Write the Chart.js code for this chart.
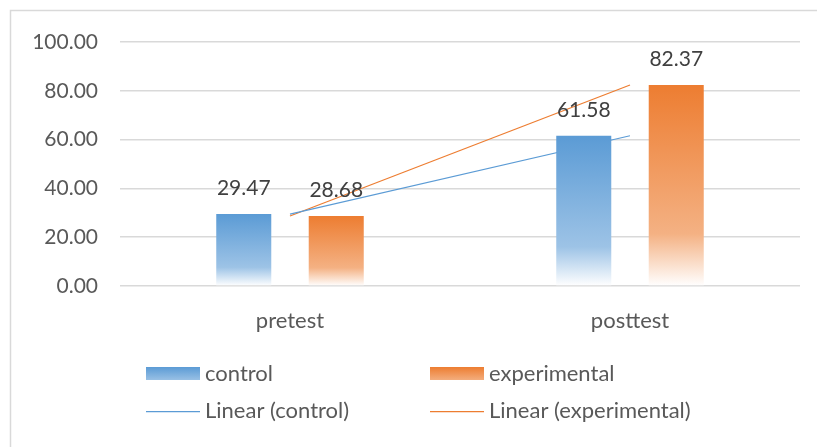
<!DOCTYPE html>
<html>
<head>
<meta charset="utf-8">
<script src="https://cdn.jsdelivr.net/npm/chart.js@4.4.1/dist/chart.umd.min.js"></script>
<style>
  html, body { margin: 0; padding: 0; background: #fff; }
  #wrap { width: 817px; height: 447px; }
</style>
</head>
<body>
<div id="wrap"><canvas id="c" width="817" height="447"></canvas></div>
<script>
// data
var categories = ['pretest', 'posttest'];
var control = [29.47, 61.58];
var experimental = [28.68, 82.37];
var yTicks = [0, 20, 40, 60, 80, 100];

var BLUE = '#5B9BD5';
var ORANGE = '#ED7D31';
var TXT = '#595959';
var FONT = 'Lato';

function barFill(base, mid) {
  return function (ctx) {
    var chart = ctx.chart;
    if (!chart.chartArea || ctx.type !== 'data') return base;
    var y = chart.scales.y;
    var top = y.getPixelForValue(ctx.raw);
    var bot = y.getPixelForValue(0);
    if (!isFinite(top) || bot - top < 1) return base;
    var g = chart.ctx.createLinearGradient(0, top, 0, bot);
    g.addColorStop(0, base);
    g.addColorStop(0.74, mid);
    g.addColorStop(1, '#ffffff');
    return g;
  };
}

// border of the chart box (only top/left are visible in the picture)
var boxPlugin = {
  id: 'box',
  beforeDraw: function (chart) {
    var c = chart.ctx;
    c.save();
    c.strokeStyle = '#d9d9d9';
    c.lineWidth = 1.5;
    c.strokeRect(10.5, 10.5, 830, 460);
    c.restore();
  }
};

// values above the bars
var valuePlugin = {
  id: 'values',
  afterDatasetsDraw: function (chart) {
    var c = chart.ctx;
    c.save();
    c.font = '21px ' + FONT;
    c.fillStyle = '#404040';
    c.textAlign = 'center';
    c.textBaseline = 'middle';
    chart.data.datasets.forEach(function (ds, i) {
      if (ds.type === 'line') return;
      chart.getDatasetMeta(i).data.forEach(function (bar, j) {
        c.fillText(ds.data[j].toFixed(2), bar.x, bar.y - 26);
      });
    });
    c.restore();
  }
};

// two column legend like excel's
var legendPlugin = {
  id: 'legend2',
  afterDraw: function (chart) {
    var c = chart.ctx;
    var items = [
      { label: 'control', col: BLUE, light: '#9DC3E6', bar: true, x: 146, y: 374 },
      { label: 'experimental', col: ORANGE, light: '#F4B183', bar: true, x: 430, y: 374 },
      { label: 'Linear (control)', col: BLUE, bar: false, x: 146, y: 411 },
      { label: 'Linear (experimental)', col: ORANGE, bar: false, x: 430, y: 411 }
    ];
    c.save();
    c.font = '22px ' + FONT;
    c.textBaseline = 'middle';
    c.textAlign = 'left';
    items.forEach(function (it) {
      if (it.bar) {
        var g = c.createLinearGradient(0, it.y - 7, 0, it.y + 7);
        g.addColorStop(0, it.col);
        g.addColorStop(1, it.light);
        c.fillStyle = g;
        c.fillRect(it.x, it.y - 7, 54, 13);
      } else {
        c.strokeStyle = it.col;
        c.lineWidth = 1.25;
        c.beginPath();
        c.moveTo(it.x, it.y + 0.5);
        c.lineTo(it.x + 54, it.y + 0.5);
        c.stroke();
      }
      c.fillStyle = TXT;
      c.fillText(it.label, it.x + 59, it.y);
    });
    c.restore();
  }
};

new Chart(document.getElementById('c'), {
  type: 'bar',
  data: {
    labels: categories,
    datasets: [
      {
        label: 'control',
        data: control,
        backgroundColor: barFill(BLUE, '#9DC3E6'),
        categoryPercentage: 0.544,
        barPercentage: 0.595
      },
      {
        label: 'experimental',
        data: experimental,
        backgroundColor: barFill(ORANGE, '#F4B183'),
        categoryPercentage: 0.544,
        barPercentage: 0.595
      },
      {
        type: 'line',
        label: 'Linear (control)',
        data: control,
        borderColor: BLUE,
        borderWidth: 1.25,
        pointRadius: 0,
        fill: false
      },
      {
        type: 'line',
        label: 'Linear (experimental)',
        data: experimental,
        borderColor: ORANGE,
        borderWidth: 1.25,
        pointRadius: 0,
        fill: false
      }
    ]
  },
  options: {
    responsive: false,
    animation: false,
    layout: { padding: { top: 42, right: 17, bottom: 100, left: 0 } },
    plugins: {
      legend: { display: false },
      tooltip: { enabled: false }
    },
    scales: {
      x: {
        grid: { display: false },
        border: { display: false },
        ticks: { color: TXT, font: { family: FONT, size: 22 }, padding: 14 },
        afterFit: function (s) { s.height = 61; }
      },
      y: {
        min: 0,
        max: 100,
        afterBuildTicks: function (s) { s.ticks = yTicks.map(function (v) { return { value: v }; }); },
        grid: { color: '#d9d9d9', lineWidth: 1.5, drawTicks: false },
        border: { display: false },
        ticks: {
          color: TXT,
          font: { family: FONT, size: 21 },
          padding: 22,
          callback: function (v) { return Number(v).toFixed(2); }
        },
        afterFit: function (s) { s.width = 120; }
      }
    }
  },
  plugins: [boxPlugin, valuePlugin, legendPlugin]
});
</script>
</body>
</html>
